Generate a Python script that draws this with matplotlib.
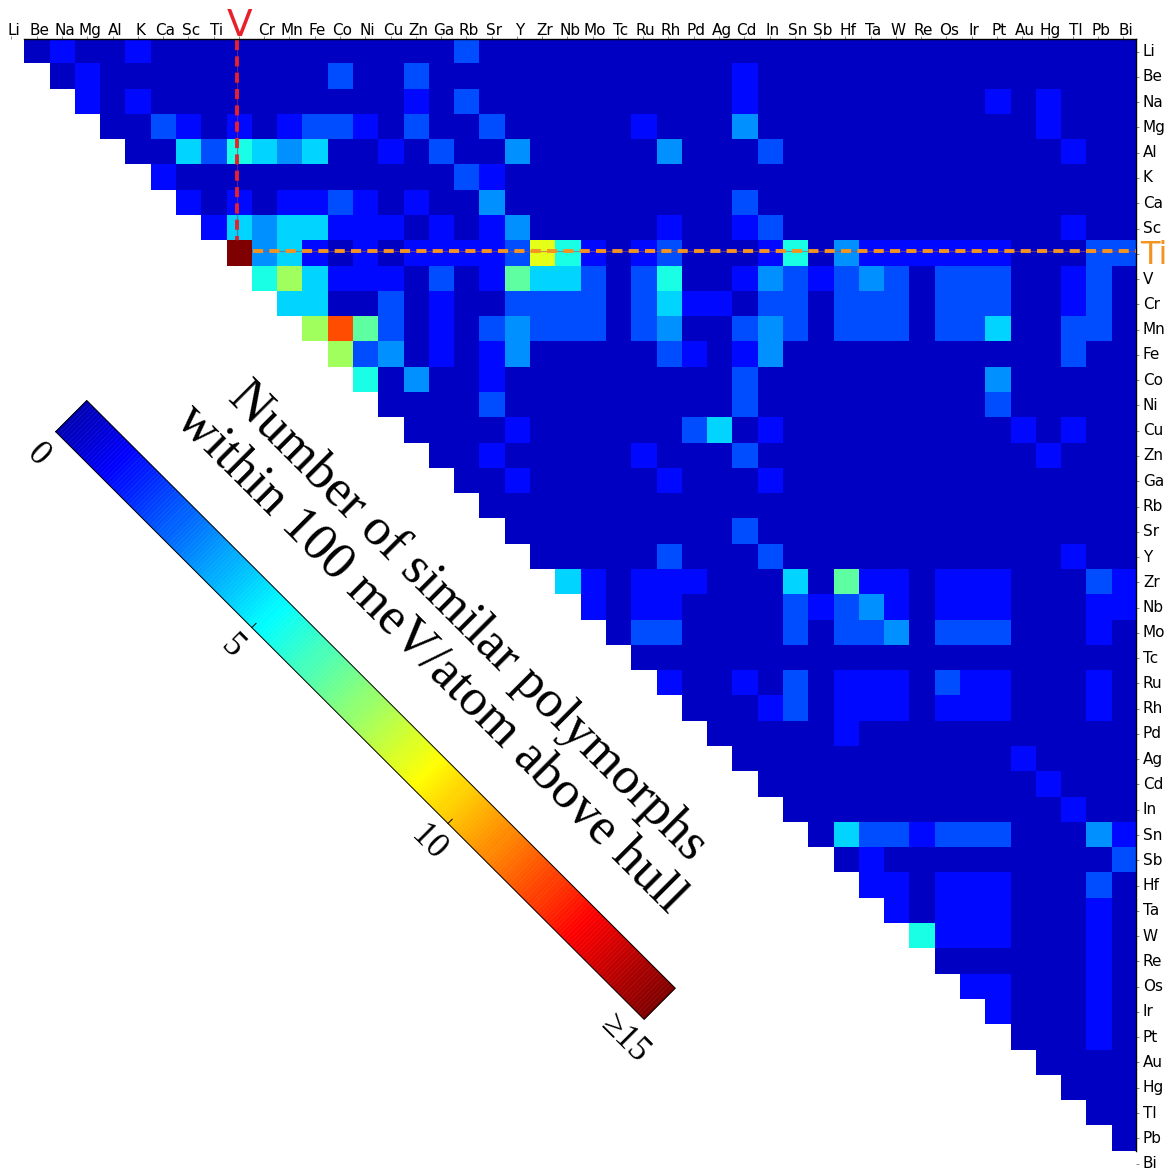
import numpy as np
import matplotlib
matplotlib.use("Agg")
from matplotlib import pyplot as plt
from matplotlib.collections import PolyCollection
from matplotlib.colors import LinearSegmentedColormap
from matplotlib.transforms import ScaledTranslation

elements = ["Li", "Be", "Na", "Mg", "Al", "K", "Ca", "Sc", "Ti", "V",
            "Cr", "Mn", "Fe", "Co", "Ni", "Cu", "Zn", "Ga", "Rb", "Sr",
            "Y", "Zr", "Nb", "Mo", "Tc", "Ru", "Rh", "Pd", "Ag", "Cd",
            "In", "Sn", "Sb", "Hf", "Ta", "W", "Re", "Os", "Ir", "Pt",
            "Au", "Hg", "Tl", "Pb", "Bi"]

# similar polymorphs for each pair (hex digit, f = 15 or more), '.' = no cell
# columns follow `elements`, grouped by five
count_rows = [
    ".1211 21111 11111 11131 11111 11111 11111 11111 11111",  # Li
    "..121 11111 11131 13111 11111 11112 11111 11111 11111",  # Be
    "...21 21111 11111 12131 11111 11112 11111 11112 12111",  # Na
    "....1 13212 12332 13113 11111 21114 11111 11111 12111",  # Mg
    "..... 11536 54511 21311 41111 14111 31111 11111 11211",  # Al
    "..... .2111 11111 11132 11111 11111 11111 11111 11111",  # K
    "..... ..212 12232 12114 11111 11113 11111 11111 11111",  # Ca
    "..... ...25 45522 21212 41111 12112 31111 11111 11211",  # Sc
    "..... ....f 45212 12222 39621 23111 26142 22222 11133",  # Ti
    "..... ..... 68522 21312 75531 36112 43234 31333 11231",  # V
    "..... ..... .5511 31211 33331 35221 33133 31333 11231",  # Cr
    "..... ..... ..8c7 31213 43331 34113 43133 31335 11331",  # Mn
    "..... ..... ...83 41212 41111 13212 41111 11111 11311",  # Fe
    "..... ..... ....6 14112 11111 11113 11111 11114 11111",  # Co
    "..... ..... ..... 11113 11111 11113 11111 11113 11111",  # Ni
    "..... ..... ..... .1111 21111 11351 21111 11111 21211",  # Cu
    "..... ..... ..... ..112 11111 21113 11111 11111 12111",  # Zn
    "..... ..... ..... ...11 21111 12111 21111 11111 11111",  # Ga
    "..... ..... ..... ....1 11111 11111 11111 11111 11111",  # Rb
    "..... ..... ..... ..... 11111 11113 11111 11111 11111",  # Sr
    "..... ..... ..... ..... .1111 13111 31111 11111 11211",  # Y
    "..... ..... ..... ..... ..521 22211 15172 21222 11132",  # Zr
    "..... ..... ..... ..... ...21 22111 13234 21222 11122",  # Nb
    "..... ..... ..... ..... ....1 33111 13133 41333 11121",  # Mo
    "..... ..... ..... ..... ..... 11111 11111 11111 11111",  # Tc
    "..... ..... ..... ..... ..... .2112 13122 21322 11121",  # Ru
    "..... ..... ..... ..... ..... ..111 23122 21222 11121",  # Rh
    "..... ..... ..... ..... ..... ...11 11121 11111 11111",  # Pd
    "..... ..... ..... ..... ..... ....1 11111 11111 21111",  # Ag
    "..... ..... ..... ..... ..... ..... 11111 11111 12111",  # Cd
    "..... ..... ..... ..... ..... ..... .1111 11111 11211",  # In
    "..... ..... ..... ..... ..... ..... ..153 32333 11142",  # Sn
    "..... ..... ..... ..... ..... ..... ...12 11111 11113",  # Sb
    "..... ..... ..... ..... ..... ..... ....2 21222 11131",  # Hf
    "..... ..... ..... ..... ..... ..... ..... 21222 11121",  # Ta
    "..... ..... ..... ..... ..... ..... ..... .6222 11121",  # W
    "..... ..... ..... ..... ..... ..... ..... ..111 11121",  # Re
    "..... ..... ..... ..... ..... ..... ..... ...22 11121",  # Os
    "..... ..... ..... ..... ..... ..... ..... ....2 11121",  # Ir
    "..... ..... ..... ..... ..... ..... ..... ..... 11121",  # Pt
    "..... ..... ..... ..... ..... ..... ..... ..... .1111",  # Au
    "..... ..... ..... ..... ..... ..... ..... ..... ..111",  # Hg
    "..... ..... ..... ..... ..... ..... ..... ..... ...11",  # Tl
    "..... ..... ..... ..... ..... ..... ..... ..... ....1",  # Pb
    "..... ..... ..... ..... ..... ..... ..... ..... .....",  # Bi
]

cbar_ticks = [0, 5, 10, 15]
cbar_ticklabels = ["0", "5", "10", "≥15"]
cbar_label = "Number of similar polymorphs\nwithin 100 meV/atom above hull"
highlight_col = "V"
highlight_row = "Ti"

W, H = 1167, 1169
RED = "#e8202a"
ORANGE = "#f39322"
SERIF = ["Liberation Serif", "DejaVu Serif"]

# MATLAB-style jet (yellow sits a bit lower than in matplotlib's jet)
JET = LinearSegmentedColormap.from_list("mjet", [
    (0.0, (0, 0, 0.5)), (1 / 8, (0, 0, 1)), (3 / 8, (0, 1, 1)),
    (5 / 8, (1, 1, 0)), (7 / 8, (1, 0, 0)), (1.0, (0.5, 0, 0))], N=256)


def parse_counts(rows):
    """
    Turns the row strings into a matrix, NaN where no cell is drawn.
    """
    grid = np.full((len(rows), len(elements)), np.nan)
    for i, row in enumerate(rows):
        for j, c in enumerate(row.replace(" ", "")):
            if c != ".":
                grid[i, j] = int(c, 16)
    return grid


def px(fig, dx, dy):
    return ScaledTranslation(dx / 100, dy / 100, fig.dpi_scale_trans)


def draw_matrix(fig, grid):
    n = len(elements)
    ax = fig.add_axes([-1.2 / W, (H - 39 - 1137.2) / H, 1137.2 / W, 1137.2 / H])
    ax.imshow(np.ma.masked_invalid(grid), cmap=JET, vmin=0, vmax=15,
              interpolation="nearest", aspect="auto")

    ax.set_xticks(range(n))
    ax.set_xticklabels(elements)
    ax.set_yticks(range(n))
    ax.set_yticklabels(elements)
    ax.xaxis.tick_top()
    ax.yaxis.tick_right()
    ax.tick_params(length=2, width=0.6, color="#777777", labelsize=11, pad=3)
    for lab in ax.get_xticklabels():
        lab.set_transform(lab.get_transform() + px(fig, 2.5, -5.5))
    for lab in ax.get_yticklabels():
        lab.set_transform(lab.get_transform() + px(fig, 0, 1.5))
    for side in ["left", "bottom"]:
        ax.spines[side].set_visible(False)
    # frame only along the drawn cells: Li column and Bi row stay empty
    ax.spines["top"].set_bounds(0.5, n - 0.5)
    ax.spines["right"].set_bounds(-0.5, n - 1.5)
    for side in ["top", "right"]:
        ax.spines[side].set_linewidth(1.0)

    ci = elements.index(highlight_col)
    ri = elements.index(highlight_row)
    lab = ax.get_xticklabels()[ci]
    lab.set_color(RED)
    lab.set_fontsize(27)
    lab.set_transform(lab.get_transform() + px(fig, -1.5, -6))
    lab = ax.get_yticklabels()[ri]
    lab.set_color(ORANGE)
    lab.set_fontsize(23)
    lab.set_transform(lab.get_transform() + px(fig, -3, 0))

    # dashed guides to the highlighted pair
    x = ci - 0.06
    ax.plot([x, x], [-0.45, ri - 0.55], color="#a03050", lw=0.8, alpha=0.6)
    ax.plot([x, x], [-0.45, ri - 0.55], color=RED, lw=2.8, dashes=(2.6, 1.6))
    y = ri - 0.12
    ax.plot([ci + 0.55, n - 0.5], [y, y], color="#a05070", lw=0.8, alpha=0.6)
    ax.plot([ci + 0.55, n - 0.5], [y, y], color=ORANGE, lw=2.8, dashes=(2.6, 1.6))

    ax.set_xlim(-0.5, n - 0.5)
    ax.set_ylim(n - 0.5, -0.5)
    return ax


def draw_colorbar(fig):
    """
    Diagonal colour bar in the empty lower-left triangle (pixel coordinates).
    """
    cax = fig.add_axes([0, 0, 1, 1])
    cax.set_xlim(0, W)
    cax.set_ylim(H, 0)
    cax.axis("off")
    cax.patch.set_visible(False)

    start = np.array([71.2, 416.1])
    end = np.array([659.7, 1003.8])
    half = 22.0
    length = np.linalg.norm(end - start)
    u = (end - start) / length
    nrm = np.array([u[1], -u[0]])
    vmax = cbar_ticks[-1]

    steps = 256
    quads, colors = [], []
    for k in range(steps):
        p0 = start + u * length * k / steps
        p1 = start + u * length * (k + 1) / steps
        quads.append([p0 - nrm * half, p0 + nrm * half, p1 + nrm * half, p1 - nrm * half])
        colors.append(JET(0.05 + 0.95 * (k + 0.5) / steps))
    cax.add_collection(PolyCollection(quads, facecolors=colors, edgecolors=colors, linewidths=0.3))
    outline = np.array([start - nrm * half, start + nrm * half, end + nrm * half,
                        end - nrm * half, start - nrm * half])
    cax.plot(outline[:, 0], outline[:, 1], color="black", lw=0.7)

    for val, txt in zip(cbar_ticks, cbar_ticklabels):
        edge = start - nrm * half + u * length * val / vmax
        if 0 < val < vmax:
            tip = edge + nrm * 6
            cax.plot([edge[0], tip[0]], [edge[1], tip[1]], color="black", lw=0.7)
        pos = edge - nrm * 28
        if val == 0:
            pos = pos + u * 4 - nrm * 1
        cax.text(pos[0], pos[1], txt, rotation=-45, rotation_mode="anchor",
                 ha="center", va="center", fontsize=25, family=SERIF)

    cax.text(449, 640, cbar_label, rotation=-45, rotation_mode="anchor",
             ha="center", va="center", multialignment="center",
             fontsize=38, linespacing=1.1, family=SERIF)


def main():
    grid = parse_counts(count_rows)
    fig = plt.figure(figsize=(W / 100, H / 100), dpi=100)
    draw_matrix(fig, grid)
    draw_colorbar(fig)
    fig.savefig("out.png", dpi=100)


if __name__ == "__main__":
    main()
